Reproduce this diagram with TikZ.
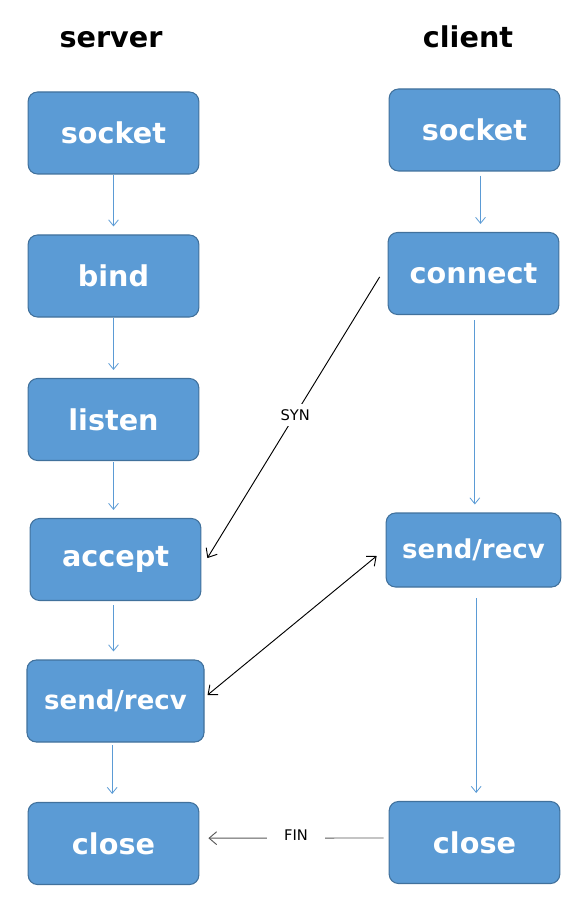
\documentclass[tikz,border=0pt]{standalone}
\usepackage{fontspec}
\setmainfont{DejaVu Sans}
\usepackage{tikz}
\usetikzlibrary{arrows.meta, positioning}

\definecolor{boxfill}{HTML}{5B9BD5}
\definecolor{boxline}{HTML}{41719C}

\begin{document}
\begin{tikzpicture}[
  x=0.75pt, y=-0.75pt,
  etape/.style={
    rounded corners=7pt,
    fill=boxfill, draw=boxline, line width=0.8pt,
    text=white, font=\fontsize{21.5}{25}\selectfont\bfseries,
    minimum width=128pt, minimum height=61.5pt,
    inner sep=0pt
  },
  petite/.style={
    font=\fontsize{19.5}{23}\selectfont\bfseries
  },
  titre/.style={
    font=\fontsize{21.5}{25}\selectfont\bfseries
  },
  suite/.style={
    arrows={-Straight Barb[length=1.6mm, width=2.6mm]},
    draw=boxfill, line width=0.6pt,
    shorten >=6pt
  },
  msg/.style={
    arrows={-Straight Barb[length=2mm, width=3.4mm]},
    draw=black, line width=0.7pt
  },
  etiq/.style={
    fill=white, font=\fontsize{11}{13}\selectfont, inner sep=4pt
  }
]
\useasboundingbox (0,0) rectangle (580,923);

% ----- Titres -----
\node[titre] (tserver) at (111, 40) {server};
\node[titre] (tclient) at (468, 37) {client};

% ----- Serveur -----
\node[etape] (ssocket) at (113.5, 133) {socket};
\node[etape] (sbind) at (113.5, 276) {bind};
\node[etape] (slisten) at (113.5, 419.5) {listen};
\node[etape] (saccept) at (115.5, 559.5) {accept};
\node[etape, petite, minimum width=132.75pt] (ssend) at (115.5, 701) {send/recv};
\node[etape] (sclose) at (113.5, 843.5) {close};

% ----- Client -----
\node[etape] (csocket) at (474.5, 130) {socket};
\node[etape] (cconnect) at (473.5, 273.5) {connect};
\node[etape, petite, minimum width=131pt, minimum height=55.5pt] (csend) at (473.5, 550) {send/recv};
\node[etape] (cclose) at (474.5, 842.5) {close};

% ----- Enchainements -----
\draw[suite] (ssocket) -- (ssocket |- sbind.north);
\draw[suite] (sbind) -- (sbind |- slisten.north);
\draw[suite] ([yshift=-1pt]slisten.south) -- (slisten.south |- saccept.north);
\draw[suite] ([yshift=-3pt]slisten.south |- saccept.south) -- (slisten.south |- ssend.north);
\draw[suite] ([xshift=-1pt, yshift=-2pt]slisten.south |- ssend.south) -- ([xshift=-1pt]sclose.north);

\draw[suite] ([xshift=4.5pt, yshift=-3pt]csocket.south) -- ([xshift=4.5pt]csocket.south |- cconnect.north);
\draw[suite] ([xshift=1pt, yshift=-4pt]cconnect.south) -- ([xshift=1pt]cconnect.south |- csend.north);
\draw[suite] ([xshift=2pt, yshift=-8pt]csend.south) -- ([xshift=2pt]csend.south |- cclose.north);

% ----- Messages -----
\draw[msg] ([xshift=-6pt, yshift=-2.6pt]cconnect.west)
  -- node[etiq, pos=0.49] (syn) {SYN} ([xshift=4.5pt, yshift=1.1pt]saccept.east);
\draw[msg, arrows={Straight Barb[length=2mm, width=3.4mm]-Straight Barb[length=2mm, width=3.4mm]}]
  ([xshift=2.25pt, yshift=4.5pt]ssend.east) -- ([xshift=-6.75pt, yshift=-4.5pt]csend.west);
\draw[msg, draw=black!65] ([xshift=-3.75pt, yshift=3.4pt]cclose.west)
  -- node[etiq, inner xsep=13pt, text=black, yshift=2pt] (fin) {FIN} ([xshift=6.75pt, yshift=4pt]sclose.east);

\end{tikzpicture}
\end{document}
